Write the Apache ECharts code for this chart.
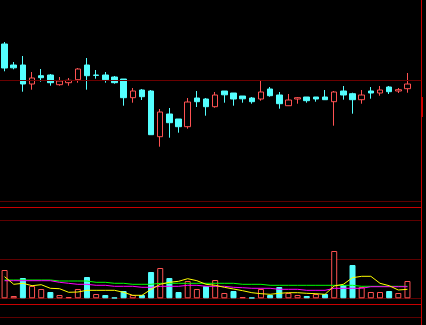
<!DOCTYPE html>
<html><head><meta charset="utf-8">
<script src="https://cdn.jsdelivr.net/npm/echarts@6/dist/echarts.min.js"></script>
<style>html,body{margin:0;padding:0;background:#000;overflow:hidden}#c{width:426px;height:325px}</style>
</head><body><div id="c"></div>
<script>
// 45 trading days plus one empty slot at the right edge
const categories = ['1','2','3','4','5','6','7','8','9','10','11','12','13','14','15','16','17','18','19','20','21','22','23','24','25','26','27','28','29','30','31','32','33','34','35','36','37','38','39','40','41','42','43','44','45',''];
const prevClose = 10.00;
const opens  = [10.360,10.150,10.150,9.960,10.043,10.050,9.953,9.973,10.003,10.150,10.050,10.050,10.030,10.010,9.823,9.900,9.890,9.433,9.660,9.610,9.533,9.820,9.810,9.733,9.890,9.870,9.840,9.820,9.810,9.910,9.850,9.743,9.810,9.830,9.830,9.830,9.783,9.890,9.863,9.803,9.890,9.870,9.930,9.890,9.913];
const closes = [10.120,10.122,9.960,10.020,10.023,9.973,9.990,9.997,10.110,10.043,10.046,10.003,9.973,9.823,9.890,9.833,9.453,9.680,9.573,9.533,9.780,9.783,9.733,9.850,9.852,9.810,9.812,9.783,9.880,9.843,9.763,9.800,9.823,9.793,9.810,9.803,9.880,9.850,9.803,9.850,9.870,9.900,9.883,9.903,9.960];
const lows   = [10.087,10.107,9.883,9.903,9.983,9.943,9.943,9.943,9.973,9.903,10.013,9.973,9.963,9.743,9.773,9.800,9.453,9.333,9.423,9.473,9.513,9.730,9.643,9.723,9.773,9.743,9.773,9.763,9.793,9.833,9.713,9.743,9.763,9.773,9.783,9.803,9.543,9.803,9.663,9.763,9.813,9.843,9.860,9.870,9.873];
const highs  = [10.380,10.180,10.240,10.080,10.110,10.060,10.030,10.020,10.120,10.220,10.100,10.080,10.040,10.010,9.920,9.910,9.900,9.710,9.720,9.610,9.820,9.890,9.820,9.880,9.890,9.870,9.840,9.830,9.990,9.930,9.880,9.860,9.830,9.830,9.830,9.900,9.890,9.940,9.873,9.900,9.930,9.940,9.940,9.920,10.070];
const volumes = [2830,230,2030,1230,930,630,330,130,930,2130,430,330,70,730,330,330,2630,3030,2030,630,1730,930,1230,1830,530,730,130,70,930,330,1130,530,330,230,430,430,4730,1330,3330,1130,630,630,730,530,1730];
const volMA5  = [2160,1400,1500,1260,1360,1000,960,600,630,800,800,800,800,600,300,300,900,1400,1600,1700,1960,1760,1400,1300,1100,930,760,560,460,400,500,560,560,500,460,400,1230,1400,2060,2200,2200,1500,1260,830,900];
const volMA10 = [1760,1760,1760,1760,1760,1760,1600,1500,1400,1400,1300,1300,1200,1200,1200,1100,1100,1200,1200,1200,1300,1300,1200,1200,1200,1100,1060,1000,1000,1000,900,900,900,800,800,800,1000,1000,1000,1000,1160,1160,1160,1160,1160];
const volMA20 = [1830,1830,1830,1830,1830,1830,1730,1730,1730,1730,1600,1600,1500,1500,1400,1400,1400,1500,1500,1500,1500,1500,1500,1500,1500,1500,1400,1400,1400,1300,1300,1300,1300,1300,1300,1300,1300,1300,1300,1200,1200,1200,1200,1200,1200];

const UP = '#ff5252', DOWN = '#54ffff';
const DARK = '#5e0000', BRIGHT = '#c80000';

const kData = opens.map((o, i) => [o, closes[i], lows[i], highs[i]]);
const volData = volumes.map((v, i) => {
  const ref = i === 0 ? prevClose : closes[i - 1];
  const up = closes[i] >= ref;
  return {
    value: v,
    itemStyle: up ? { color: '#000', borderColor: UP, borderWidth: 1 }
                  : { color: DOWN, borderColor: DOWN, borderWidth: 1 }
  };
});

const chart = echarts.init(document.getElementById('c'), null, { renderer: 'canvas' });
const hline = (y, c) => ({ type: 'line', silent: true, z: 0,
  shape: { x1: 0, y1: y + 0.5, x2: 421, y2: y + 0.5 }, style: { stroke: c, lineWidth: 1 } });

chart.setOption({
  animation: false,
  backgroundColor: '#000',
  grid: [
    { left: -1.1, width: 422.3, top: 0, height: 200 },
    { left: -1.1, width: 422.3, top: 220, height: 78.3 }
  ],
  xAxis: [
    { type: 'category', data: categories, gridIndex: 0, boundaryGap: true, show: false },
    { type: 'category', data: categories, gridIndex: 1, boundaryGap: true, show: false }
  ],
  yAxis: [
    { type: 'value', gridIndex: 0, min: 8.8, max: 10.8, show: false, scale: true },
    { type: 'value', gridIndex: 1, min: 0, max: 7830, interval: 3915,
      axisLine: { show: false }, axisTick: { show: false }, axisLabel: { show: false },
      splitLine: { show: true, lineStyle: { color: DARK, width: 1 } } }
  ],
  graphic: [
    hline(201, DARK),
    hline(207, BRIGHT),
    hline(304, BRIGHT),
    hline(317, DARK),
    { type: 'line', silent: true, shape: { x1: 421.5, y1: 0, x2: 421.5, y2: 325 },
      style: { stroke: BRIGHT, lineWidth: 1 } },
    { type: 'rect', silent: true, shape: { x: 421, y: 97, width: 2, height: 20 },
      style: { fill: '#d00000' } }
  ],
  series: [
    {
      type: 'candlestick', xAxisIndex: 0, yAxisIndex: 0, data: kData, barWidth: 6,
      itemStyle: { color: '#000', color0: DOWN, borderColor: UP, borderColor0: DOWN, borderWidth: 1 },
      markLine: {
        silent: true, symbol: 'none', label: { show: false },
        lineStyle: { color: '#6a0000', width: 1, type: 'solid' },
        data: [{ yAxis: prevClose }]
      }
    },
    { type: 'bar', xAxisIndex: 1, yAxisIndex: 1, data: volData, barWidth: 6 },
    { type: 'line', xAxisIndex: 1, yAxisIndex: 1, data: volMA20, symbol: 'none',
      lineStyle: { color: '#00ff00', width: 1 }, z: 3 },
    { type: 'line', xAxisIndex: 1, yAxisIndex: 1, data: volMA10, symbol: 'none',
      lineStyle: { color: '#ff00ff', width: 1 }, z: 4 },
    { type: 'line', xAxisIndex: 1, yAxisIndex: 1, data: volMA5, symbol: 'none',
      lineStyle: { color: '#ffff00', width: 1 }, z: 5 }
  ]
});
</script>
</body></html>
